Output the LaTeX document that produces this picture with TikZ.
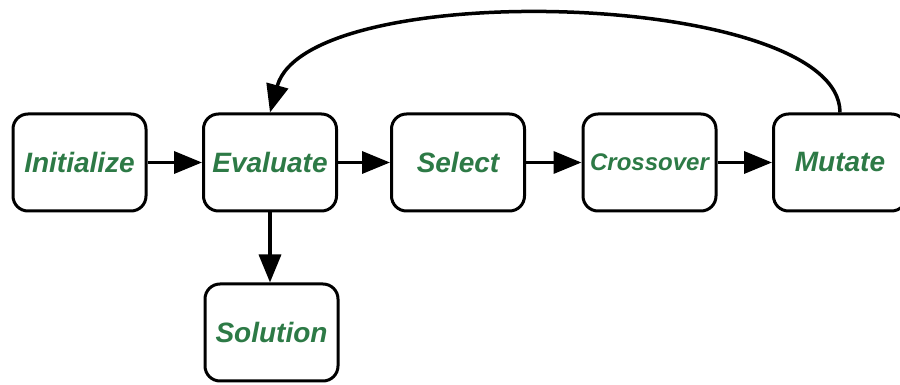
\documentclass[tikz,border=0pt]{standalone}
\usepackage{fontspec}
\setmainfont{Liberation Sans}
\usetikzlibrary{arrows.meta}
\definecolor{txtgreen}{RGB}{45,122,70}
\begin{document}
\begin{tikzpicture}[x=1pt,y=1pt,
  stepbox/.style={draw=black, line width=3pt, rounded corners=15pt, fill=white,
    minimum width=133pt, minimum height=97pt, inner sep=0pt,
    font=\fontsize{28}{31}\selectfont\bfseries\itshape, text=txtgreen},
  conn/.style={line width=3.5pt, -{Triangle[length=28pt,width=22pt]}}]
\useasboundingbox (0,0) rectangle (900,385);
\node[stepbox] (init) at (79.5,222.5) {Initialize};
\node[stepbox] (eval) at (270,222.5) {Evaluate};
\node[stepbox] (sel) at (458,222.5) {Select};
\node[stepbox, font=\fontsize{24}{28}\selectfont\bfseries\itshape] (cross) at (649.5,222.5) {Crossover};
\node[stepbox] (mut) at (840,222.5) {Mutate};
\node[stepbox] (sol) at (271.5,52.5) {Solution};
\draw[conn] (init) -- (eval);
\draw[conn] (eval) -- (sel);
\draw[conn] (sel) -- (cross);
\draw[conn] (cross) -- (mut);
\draw[conn] (eval.south) -- (eval.south |- sol.north);
\draw[conn] (mut.north) .. controls +(0,122) and +(37.5,137) .. (eval.north);
\end{tikzpicture}
\end{document}
